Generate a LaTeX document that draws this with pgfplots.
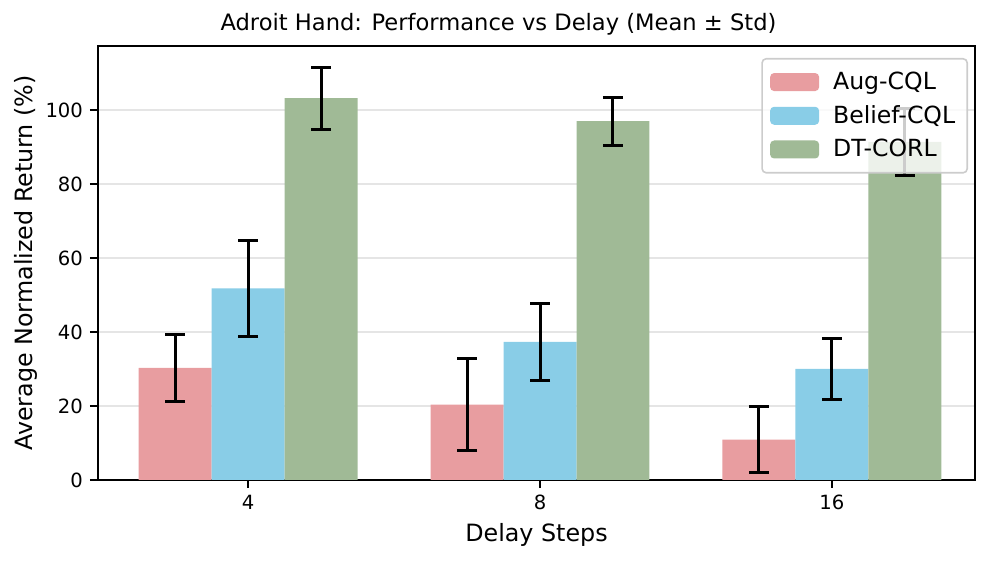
\documentclass[border=0pt]{standalone}
\usepackage{pgfplots}
\pgfplotsset{compat=1.18}
\usepackage{fontspec}
\setmainfont{DejaVu Sans}
\definecolor{augc}{HTML}{E89DA0}
\definecolor{belc}{HTML}{89CDE7}
\definecolor{dtc}{HTML}{A0BA96}
\pgfplotsset{errb/.style={draw=none, mark=none, forget plot,
  error bars/.cd, y dir=both, y explicit,
  error bar style={line width=1.5pt, draw=black},
  error mark options={rotate=90, mark size=5pt, line width=1.5pt, draw=black}}}
\begin{document}
\begin{tikzpicture}[x=1pt,y=1pt]
\begin{axis}[
  scale only axis,
  width=438.5pt, height=217pt,
  xmin=-0.514, xmax=2.49,
  ymin=0, ymax=117.3,
  xtick={0,1,2}, xticklabels={4,8,16},
  ytick={0,20,40,60,80,100},
  /pgf/number format/assume math mode=true,
  tick label style={font=\fontsize{9.8}{11}\selectfont},
  label style={font=\fontsize{11.9}{14}\selectfont},
  xlabel={Delay Steps},
  ylabel={Average Normalized Return (\%)},
  ylabel shift=-3pt,
  title={Adroit Hand: Performance vs Delay (Mean ± Std)},
  title style={font=\fontsize{11.3}{14}\selectfont, yshift=-4pt, xshift=-19pt},
  ymajorgrids,
  major grid style={line width=0.6pt, draw=black!10},
  axis line style={line width=0.8pt},
  tick style={line width=0.8pt, black},
  major tick length=4pt,
  xtick pos=bottom, ytick pos=left,
  tick align=outside,
  legend style={at={(1,1)}, anchor=north east, xshift=-3.5pt, yshift=-6pt,
    font=\fontsize{11.8}{14}\selectfont,
    draw=black!20, fill=white, fill opacity=0.8, text opacity=1, draw opacity=1,
    rounded corners=2pt, line width=0.8pt, inner xsep=4pt, inner ysep=4.5pt,
    row sep=2.5pt, column sep=5pt},
  legend cell align=left,
  legend image code/.code={\fill[#1, fill opacity=1] (0pt,-4.5pt) rectangle (24.5pt,4.5pt);},
]
\addplot[fill=augc, draw=none, ybar, bar width=0.25, bar shift=-0.25]
  coordinates {(0,30.3) (1,20.4) (2,10.9)};
\addlegendentry{Aug-CQL}
\addplot[fill=belc, draw=none, ybar, bar width=0.25, bar shift=0]
  coordinates {(0,51.8) (1,37.3) (2,30.0)};
\addlegendentry{Belief-CQL}
\addplot[fill=dtc, draw=none, ybar, bar width=0.25, bar shift=0.25]
  coordinates {(0,103.2) (1,97.0) (2,91.4)};
\addlegendentry{DT-CORL}
\addplot[errb] coordinates {(-0.25,30.3) +- (0,9.0) (0.75,20.4) +- (0,12.5) (1.75,10.9) +- (0,9.0)};
\addplot[errb] coordinates {(0,51.8) +- (0,13.0) (1,37.3) +- (0,10.3) (2,30.0) +- (0,8.3)};
\addplot[errb] coordinates {(0.25,103.2) +- (0,8.4) (1.25,97.0) +- (0,6.5) (2.25,91.4) +- (0,9.0)};
\end{axis}
\path (current axis.south west) ++(-49pt,-40.5pt) coordinate (bl);
\path (current axis.north east) ++(10.5pt,23pt) coordinate (tr);
\path (bl) rectangle (tr);
\end{tikzpicture}
\end{document}
